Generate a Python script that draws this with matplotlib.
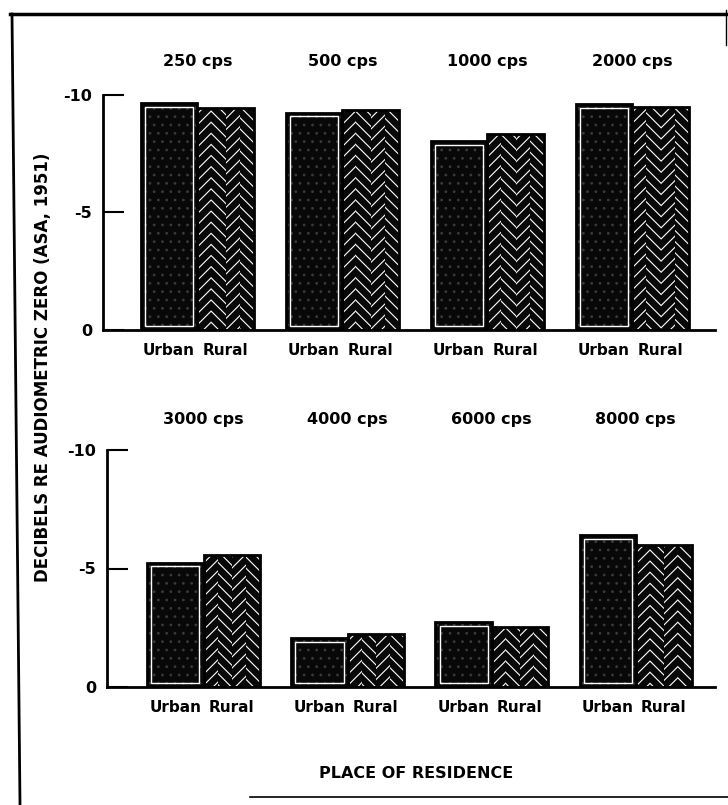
import numpy as np
import matplotlib.pyplot as plt
from matplotlib.lines import Line2D

# hearing level, dB re audiometric zero (negative = better than zero)
freqs_top = ['250 cps', '500 cps', '1000 cps', '2000 cps']
urban_top = [-9.65, -9.25, -8.05, -9.6]
rural_top = [-9.45, -9.35, -8.35, -9.5]

freqs_bottom = ['3000 cps', '4000 cps', '6000 cps', '8000 cps']
urban_bottom = [-5.25, -2.05, -2.75, -6.4]
rural_bottom = [-5.55, -2.25, -2.55, -6.0]

group_labels = ['Urban', 'Rural']

plt.rcParams['font.family'] = 'DejaVu Sans'
plt.rcParams['font.weight'] = 'bold'
plt.rcParams['hatch.linewidth'] = 0.8

fig = plt.figure(figsize=(7.28, 8.05), dpi=100)
W, H = 728, 805

w = 0.39        # width of one bar
n_strips = 4    # chevron strips in the rural bars


def draw_panel(ax, freqs, urban, rural, x0, title_off):
    x = np.arange(len(freqs))
    xu = x - w / 2
    xr = x + w / 2

    # urban: dark stipple with a thin white inner frame
    ax.bar(xu, urban, w, color='#080808', edgecolor='#3a3a3a', hatch='..',
           linewidth=0, zorder=2)
    ax.bar(xu, urban, w, fill=False, edgecolor='black', linewidth=2, zorder=4)
    dx, dy = 0.028, 0.16
    ax.bar(xu, np.array(urban) + 2 * dy, w - 2 * dx, bottom=-dy, fill=False,
           edgecolor='white', linewidth=1.0, zorder=3)

    # rural: chevrons built from alternating diagonal strips
    sw = w / n_strips
    for k in range(n_strips):
        xs = xr - w / 2 + sw * (k + 0.5)
        ax.bar(xs, rural, sw, color='#080808', edgecolor='white',
               hatch='///' if k % 2 == 0 else '\\\\\\', linewidth=0,
               zorder=2)
    ax.bar(xr, rural, w, fill=False, edgecolor='black', linewidth=2, zorder=4)

    for xi, f in zip(x, freqs):
        ax.annotate(f, xy=(xi, 1), xycoords=('data', 'axes fraction'),
                    xytext=(0, title_off), textcoords='offset points',
                    ha='center', va='center', fontsize=11.5, fontweight='bold')

    ax.set_xlim(x0, x0 + 4.22)
    ax.set_ylim(0, -10)
    ax.set_yticks([0, -5, -10])
    ax.set_yticklabels(['0', '-5', '-10'])
    ax.set_xticks(np.concatenate([xu, xr]))
    ax.set_xticklabels(group_labels[:1] * len(x) + group_labels[1:] * len(x))
    ax.tick_params(axis='y', direction='in', length=15, width=1.5, pad=8,
                   labelsize=11.5)
    ax.tick_params(axis='x', length=0, pad=9, labelsize=11)
    for s in ['top', 'right']:
        ax.spines[s].set_visible(False)
    for s in ['left', 'bottom']:
        ax.spines[s].set_linewidth(2)


ax_top = fig.add_axes([103 / W, 1 - 330 / H, 612 / W, 235 / H])
ax_bot = fig.add_axes([107 / W, 1 - 687 / H, 608 / W, 237 / H])
draw_panel(ax_top, freqs_top, urban_top, rural_top, -0.65, 24)
draw_panel(ax_bot, freqs_bottom, urban_bottom, rural_bottom, -0.67, 22)

fig.text(43 / W, 1 - 367 / H, 'DECIBELS RE AUDIOMETRIC ZERO (ASA, 1951)',
         rotation=90, ha='center', va='center', fontsize=12,
         fontweight='bold')
fig.text(416 / W, 1 - 773 / H, 'PLACE OF RESIDENCE', ha='center',
         va='center', fontsize=11.5, fontweight='bold')

# page frame
frame = [
    ([10, 728], [14, 14], 2.5),
    ([12, 20], [14, 805], 2.0),
    ([726, 726], [10, 45], 1.0),
    ([250, 728], [797, 797], 1.2),
]
for xs, ys, lw in frame:
    fig.add_artist(Line2D([v / W for v in xs], [1 - v / H for v in ys],
                          color='black', linewidth=lw))

fig.savefig('out.png', dpi=100)
